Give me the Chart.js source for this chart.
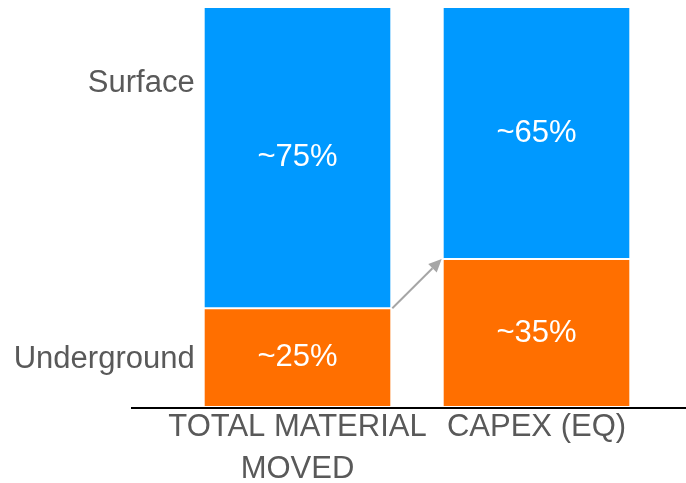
<!DOCTYPE html>
<html>
<head>
<meta charset="utf-8">
<script src="https://cdn.jsdelivr.net/npm/chart.js@4/dist/chart.umd.min.js"></script>
<style>
    html, body { margin: 0; padding: 0; background: #fff; }
    #wrap { width: 686px; height: 483px; }
</style>
</head>
<body>
<div id="wrap"><canvas id="chart"></canvas></div>
<script>
// Données du graphique
const categories = [['TOTAL MATERIAL', 'MOVED'], 'CAPEX (EQ)'];
const seriesNames = ['Underground', 'Surface'];
const underground = [24.7, 37];
const surface = [75.3, 63];
const undergroundLabels = ['~25%', '~35%'];
const surfaceLabels = ['~75%', '~65%'];
// hauteur (en %) où sont écrits les noms des séries à gauche
const seriesNameAt = [12, 81];

const font = '"Liberation Sans", Arial, sans-serif';

// Plugin: axe, valeurs dans les barres, noms des séries et flèche
const annotations = {
    id: 'annotations',
    afterDatasetsDraw(chart) {
        const ctx = chart.ctx;
        const area = chart.chartArea;
        const yScale = chart.scales.y;
        ctx.save();

        // ligne d'axe prolongée
        ctx.strokeStyle = '#000';
        ctx.lineWidth = 2;
        ctx.beginPath();
        ctx.moveTo(131, area.bottom + 1);
        ctx.lineTo(chart.width, area.bottom + 1);
        ctx.stroke();

        // valeurs dans les segments
        ctx.font = '31px ' + font;
        ctx.fillStyle = '#fff';
        ctx.textAlign = 'center';
        ctx.textBaseline = 'middle';
        [undergroundLabels, surfaceLabels].forEach((labels, i) => {
            chart.getDatasetMeta(i).data.forEach((bar, j) => {
                ctx.fillText(labels[j], bar.x, (bar.y + bar.base) / 2);
            });
        });

        // noms des séries
        const first = chart.getDatasetMeta(0).data[0];
        ctx.fillStyle = '#595959';
        ctx.textAlign = 'right';
        seriesNames.forEach((name, i) => {
            ctx.fillText(name, first.x - first.width / 2 - 9, yScale.getPixelForValue(seriesNameAt[i]));
        });

        // flèche entre les deux segments "Underground"
        const b0 = chart.getDatasetMeta(0).data[0];
        const b1 = chart.getDatasetMeta(0).data[1];
        const x0 = b0.x + b0.width / 2 + 1, y0 = b0.y;
        const x1 = b1.x - b1.width / 2 - 1, y1 = b1.y;
        const ang = Math.atan2(y1 - y0, x1 - x0);
        const head = 13;
        ctx.strokeStyle = '#A6A6A6';
        ctx.fillStyle = '#A6A6A6';
        ctx.lineWidth = 2;
        ctx.beginPath();
        ctx.moveTo(x0, y0);
        ctx.lineTo(x1 - head * Math.cos(ang), y1 - head * Math.sin(ang));
        ctx.stroke();
        ctx.beginPath();
        ctx.moveTo(x1, y1);
        ctx.lineTo(x1 - head * Math.cos(ang) + 6 * Math.sin(ang), y1 - head * Math.sin(ang) - 6 * Math.cos(ang));
        ctx.lineTo(x1 - head * Math.cos(ang) - 6 * Math.sin(ang), y1 - head * Math.sin(ang) + 6 * Math.cos(ang));
        ctx.closePath();
        ctx.fill();

        ctx.restore();
    }
};

new Chart(document.getElementById('chart'), {
    type: 'bar',
    data: {
        labels: categories,
        datasets: [{
            label: seriesNames[0],
            data: underground,
            backgroundColor: '#FF6F00',
            borderColor: '#FFFFFF',
            borderWidth: 1,
            borderSkipped: false,
            barPercentage: 0.785,
            categoryPercentage: 1
        }, {
            label: seriesNames[1],
            data: surface,
            backgroundColor: '#0099FF',
            borderColor: '#FFFFFF',
            borderWidth: 1,
            borderSkipped: false,
            barPercentage: 0.785,
            categoryPercentage: 1
        }]
    },
    options: {
        responsive: true,
        maintainAspectRatio: false,
        animation: false,
        layout: { padding: { left: 178, right: 30, top: 7, bottom: 0 } },
        plugins: {
            legend: { display: false },
            tooltip: { enabled: false }
        },
        scales: {
            x: {
                stacked: true,
                grid: { display: false, drawTicks: false },
                border: { display: false },
                ticks: {
                    color: '#595959',
                    font: { family: font, size: 31, lineHeight: 1.355 },
                    maxRotation: 0,
                    autoSkip: false,
                    padding: -1
                },
                afterFit(scale) { scale.height = 76; }
            },
            y: {
                stacked: true,
                display: false,
                min: 0,
                max: 100
            }
        }
    },
    plugins: [annotations]
});
</script>
</body>
</html>
